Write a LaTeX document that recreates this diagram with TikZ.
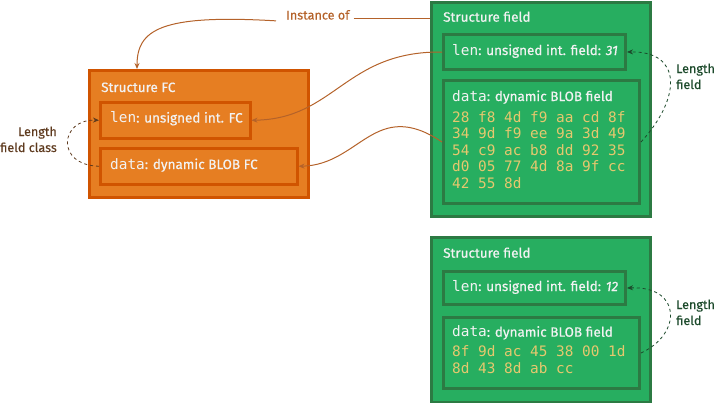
\documentclass[tikz,border=0pt]{standalone}
\usepackage{fontspec}
\setmainfont{Fira Sans}[FakeBold=0.6]
\newfontfamily\notefont{Fira Sans}[FakeBold=0.3]
\setmonofont{DejaVu Sans Mono}
\usetikzlibrary{arrows.meta}
\definecolor{ofill}{HTML}{E67E22}
\definecolor{oline}{HTML}{D05400}
\definecolor{gfill}{HTML}{27AE60}
\definecolor{gline}{HTML}{2C7A43}
\definecolor{hexc}{HTML}{E6C86E}
\definecolor{wtext}{HTML}{F2F2F2}
\definecolor{conn}{HTML}{B4622A}
\definecolor{obrown}{HTML}{5E3A1E}
\definecolor{gdark}{HTML}{1C4A2B}
\begin{document}
\begin{tikzpicture}[x=1pt,y=-1pt,
  obox/.style={draw=oline,fill=ofill,line width=2.5pt,inner sep=0pt,anchor=north west},
  gbox/.style={draw=gline,fill=gfill,line width=3pt,inner sep=0pt,anchor=north west},
  lbl/.style={inner sep=0pt,anchor=base west,text=wtext,font=\fontsize{13.5}{16}\selectfont},
  hex/.style={inner sep=0pt,anchor=base west,text=hexc,font=\fontsize{14.4}{16}\ttfamily},
  note/.style={inner sep=0pt,font=\fontsize{12.6}{16}\notefont},
  conarrow/.style={draw=conn,line width=1pt,-{Stealth[length=6pt,width=5pt]}},
  odash/.style={draw=obrown,line width=0.8pt,dash pattern=on 3pt off 3pt,-{Stealth[length=6pt,width=5pt]}},
  gdash/.style={draw=gdark,line width=0.8pt,dash pattern=on 3pt off 3pt,-{Stealth[length=6pt,width=5pt]}},
]
\useasboundingbox (0,0) rectangle (718,402);
\newcommand{\mlen}{{\fontsize{14.4}{16}\ttfamily len}}
\newcommand{\mdata}{{\fontsize{14.4}{16}\ttfamily data}}

% orange structure FC
\node[obox,minimum width=219pt,minimum height=127pt] (sfc) at (88,69) {};
\node[lbl] (sfct) at (101,92) {Structure FC};
\node[obox,minimum width=150pt,minimum height=36pt] (olen) at (99,101) {};
\node[lbl] (olent) at (110,122.5) {\mlen: unsigned int. FC};
\node[obox,minimum width=197pt,minimum height=36pt] (odata) at (99,147) {};
\node[lbl] (odatat) at (110,169) {\mdata: dynamic BLOB FC};

% green structure field 1
\node[gbox,minimum width=219pt,minimum height=214pt] (sf1) at (430,1) {};
\node[lbl] (sf1t) at (443,21.7) {Structure field};
\node[gbox,minimum width=182pt,minimum height=35pt] (g1len) at (442,33) {};
\node[lbl] (g1lent) at (452,55) {\mlen: unsigned int. field: \textit{31}};
\node[gbox,minimum width=196pt,minimum height=123pt] (g1data) at (442,79) {};
\node[lbl] (g1datat) at (452,101) {\mdata: dynamic BLOB field};
\node[hex] (h1) at (452,122) {28 f8 4d f9 aa cd 8f};
\node[hex] (h2) at (452,138.6) {34 9d f9 ee 9a 3d 49};
\node[hex] (h3) at (452,155.2) {54 c9 ac b8 dd 92 35};
\node[hex] (h4) at (452,171.8) {d0 05 77 4d 8a 9f cc};
\node[hex] (h5) at (452,188.4) {42 55 8d};

% green structure field 2
\node[gbox,minimum width=219pt,minimum height=165pt] (sf2) at (430,236) {};
\node[lbl] (sf2t) at (443,257.7) {Structure field};
\node[gbox,minimum width=182pt,minimum height=33pt] (g2len) at (442,270) {};
\node[lbl] (g2lent) at (452,291) {\mlen: unsigned int. field: \textit{12}};
\node[gbox,minimum width=196pt,minimum height=71pt] (g2data) at (442,316) {};
\node[lbl] (g2datat) at (452,336.7) {\mdata: dynamic BLOB field};
\node[hex] (k1) at (452,356.5) {8f 9d ac 45 38 00 1d};
\node[hex] (k2) at (452,373) {8d 43 8d ab cc};

% labels
\node[note,text=conn,anchor=base west] (inst) at (286,19.5) {Instance of};
\node[note,text=obrown,anchor=base east] (lfc1) at (57,136) {Length};
\node[note,text=obrown,anchor=base east] (lfc2) at (57,152) {field class};
\node[note,text=gdark,anchor=base west] (lf1a) at (676,73) {Length};
\node[note,text=gdark,anchor=base west] (lf1b) at (676,89) {field};
\node[note,text=gdark,anchor=base west] (lf2a) at (676,309) {Length};
\node[note,text=gdark,anchor=base west] (lf2b) at (676,325) {field};

% connectors
\coordinate (sfctop) at (137,69);
\draw[draw=conn,line width=1pt] ([xshift=4pt,yshift=-4pt]inst.east) -- ([yshift=-4pt]inst.east -| sf1.west);
\draw[conarrow] ([xshift=-10pt,yshift=-6pt]inst.west) .. controls (160,14) and (137,30) .. (sfctop);
\draw[conarrow] (g1len.west) .. controls (345,51) and (335,119) .. (olen.east);
\draw[conarrow] (g1data.west) .. controls (375,97) and (360,165) .. (odata.east);

\draw[odash] (odata.west) .. controls (55,165) and (60,119) .. (olen.west);
\draw[gdash] (g1data.east) .. controls (682,97) and (682,51) .. (g1len.east);
\draw[gdash] (g2data.east) .. controls (682,334) and (682,286) .. (g2len.east);
\end{tikzpicture}
\end{document}
